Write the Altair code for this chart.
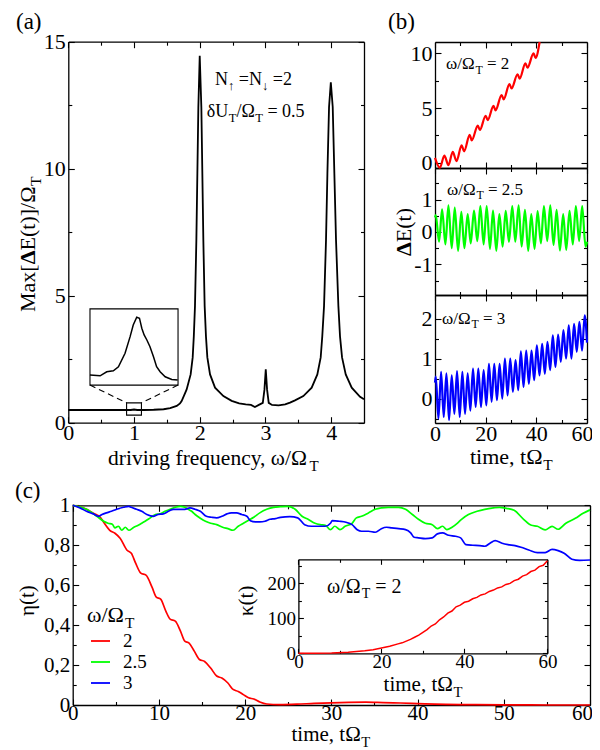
import altair as alt
import pandas as pd

# ---------------- (a) Max[dE(t)]/Omega_T versus driving frequency ----------------
omega_a = [0.0, 0.3, 0.6, 0.85, 0.95, 1.0, 1.05, 1.15, 1.3, 1.45, 1.55, 1.65, 1.70, 1.725,
           1.8, 1.862, 1.893, 1.91, 1.928, 1.949, 1.964, 1.979, 2.0, 2.025, 2.04, 2.055,
           2.075, 2.095, 2.116, 2.157, 2.233, 2.36, 2.486, 2.6, 2.7, 2.78, 2.84, 2.9, 2.96,
           2.985, 3.005, 3.025, 3.05, 3.1, 3.2, 3.3, 3.374, 3.45, 3.577, 3.704, 3.79, 3.841,
           3.865, 3.892, 3.922, 3.943, 3.968, 3.995, 4.024, 4.049, 4.074, 4.11, 4.135, 4.166,
           4.222, 4.313, 4.44, 4.5]
maxE_a = [0.5, 0.5, 0.5, 0.5, 0.5, 0.52, 0.5, 0.5, 0.51, 0.53, 0.57, 0.66, 0.76, 0.85,
          1.3, 1.9, 2.57, 3.4, 4.6, 7.2, 9.8, 12.4, 14.45, 12.4, 9.8, 7.2,
          4.6, 3.4, 2.57, 1.9, 1.38, 1.05, 0.86, 0.76, 0.72, 0.7, 0.62, 0.7, 0.78,
          1.3, 2.1, 1.3, 0.78, 0.7, 0.68, 0.72, 0.79, 0.88, 1.05, 1.38, 1.9, 2.57,
          3.4, 4.6, 7.2, 9.8, 12.43, 13.4, 12.43, 9.8, 7.2, 4.6, 3.4, 2.57,
          1.9, 1.38, 1.02, 0.92]
# (a) inset: magnified curve around omega = 1
omega_ins = [0.887, 0.913, 0.930, 0.947, 0.960, 0.977, 0.990, 0.998, 1.007, 1.014,
             1.020, 1.026, 1.033, 1.041, 1.050, 1.058, 1.067, 1.080, 1.097, 1.112]
maxE_ins = [0.4732, 0.4722, 0.4775, 0.4788, 0.4841, 0.5017, 0.5236, 0.5389, 0.5491, 0.5478,
            0.5346, 0.5258, 0.5192, 0.5104, 0.4972, 0.4841, 0.4775, 0.4709, 0.4675, 0.4666]

# ---------------- (b) dE(t), turning points of each trace ----------------
t_b1 = [0, 1.9, 3.7, 5.3, 7.0, 8.5, 10.5, 11.5, 13.7, 14.5, 16.9, 17.7, 20.0, 20.8, 23.1,
        23.9, 26.3, 27.1, 29.4, 30.2, 32.6, 33.4, 35.7, 36.5, 38.9, 39.7, 41.3]
dE_b1 = [0.45, -0.45, 0.65, -0.22, 1.0, 0.15, 1.6, 1.05, 2.55, 2.05, 3.4, 3.0, 4.3, 3.9, 5.2,
         4.8, 6.2, 5.8, 7.2, 6.8, 8.1, 7.7, 9.1, 8.7, 10.0, 9.6, 11.05]

t_b2 = [0, 0.3, 1.6, 2.8, 4.1, 5.3, 6.6, 7.8, 9.1, 10.4, 11.6, 12.9, 14.1, 15.4, 16.7, 17.9,
        19.2, 20.4, 21.7, 22.9, 24.2, 25.4, 26.7, 27.9, 29.2, 30.5, 31.7, 33.0, 34.2, 35.5,
        36.8, 38.0, 39.3, 40.5, 41.8, 43.0, 44.3, 45.5, 46.8, 48.0, 49.3, 50.6, 51.8, 53.1,
        54.4, 55.6, 56.9, 58.1, 59.4, 60]
dE_b2 = [0.45, 0.52, -0.3, 0.7, -0.38, 0.82, -0.5, 0.75, -0.58, 0.62, -0.5, 0.55, -0.35, 0.66,
         -0.28, 0.8, -0.38, 0.8, -0.52, 0.66, -0.58, 0.55, -0.45, 0.65, -0.3, 0.8, -0.3, 0.82,
         -0.45, 0.68, -0.58, 0.55, -0.52, 0.64, -0.35, 0.8, -0.28, 0.82, -0.4, 0.68, -0.57,
         0.55, -0.55, 0.65, -0.38, 0.8, -0.28, 0.8, -0.45, -0.3]

t_b3 = [0, 0.3, 1.35, 2.4, 3.45, 4.5, 5.55, 6.6, 7.65, 8.7, 9.75, 10.8, 11.85, 12.9, 13.95,
        15.0, 16.05, 17.1, 18.15, 19.2, 20.25, 21.3, 22.35, 23.4, 24.45, 25.5, 26.55, 27.6,
        28.65, 29.7, 30.75, 31.8, 32.85, 33.9, 34.95, 36.0, 37.05, 38.1, 39.15, 40.2, 41.25,
        42.3, 43.35, 44.4, 45.45, 46.5, 47.55, 48.6, 49.65, 50.7, 51.75, 52.8, 53.85, 54.9,
        55.95, 57.0, 58.05, 59.1, 60]
dE_b3 = [0.4, 0.55, -0.5, 0.67, -0.46, 0.63, -0.54, 0.58, -0.38, 0.69, -0.46, 0.67, -0.38,
         0.63, -0.3, 0.75, -0.21, 0.75, -0.21, 0.71, -0.17, 0.87, -0.08, 0.87, -0.04, 0.87,
         0.0, 1.0, 0.08, 1.0, 0.17, 0.96, 0.21, 1.18, 0.29, 1.2, 0.37, 1.2, 0.46, 1.33, 0.58,
         1.37, 0.62, 1.42, 0.71, 1.58, 0.79, 1.6, 0.92, 1.71, 1.0, 1.83, 1.0, 1.87, 1.17,
         1.92, 1.2, 2.08, 1.4]

# ---------------- (c) eta(t) ----------------
t_eta2 = [0, 1.0, 1.6, 2.4, 3.2, 3.6, 4.3, 4.9, 5.5, 6.3, 6.8, 7.3, 7.9, 8.5, 9.2, 9.7, 10.2,
          10.8, 11.3, 11.9, 12.5, 13.0, 13.5, 14.1, 14.7, 15.3, 16.0, 16.7, 17.3, 18.0, 18.6,
          19.2, 19.8, 20.4, 21.0, 21.7, 22.5, 24, 26, 28, 30, 32, 34, 36, 38, 40, 42, 45, 50,
          55, 60]
eta2 = [1.0, 0.99, 0.98, 0.96, 0.94, 0.915, 0.875, 0.86, 0.835, 0.775, 0.76, 0.71, 0.66, 0.65,
        0.59, 0.54, 0.53, 0.47, 0.43, 0.42, 0.37, 0.32, 0.31, 0.27, 0.228, 0.218, 0.185, 0.145,
        0.135, 0.11, 0.078, 0.068, 0.052, 0.036, 0.03, 0.015, 0.005, 0.002, 0.004, 0.008, 0.011,
        0.013, 0.014, 0.012, 0.01, 0.007, 0.004, 0.002, 0.001, 0.0, 0.0]
t_eta25 = [0, 1.6, 2.8, 3.6, 4.1, 4.6, 4.9, 5.3, 5.7, 6.1, 6.5, 7.1, 7.6, 8.0, 8.4, 9.0, 9.6,
           10.1, 10.7, 11.3, 11.9, 12.5, 13.0, 13.4, 13.8, 14.2, 14.8, 15.4, 16.0, 16.7, 17.4,
           18.0, 18.6, 19.2, 19.8, 20.4, 21.0, 21.7, 22.5, 23.3, 24.1, 25.0, 25.8, 26.6, 27.3,
           28.1, 28.7, 29.3, 29.9, 30.4, 31.0, 31.6, 32.4, 32.9, 33.5, 34.3, 35.1, 35.8, 36.6,
           37.8, 38.6, 39.4, 40.1, 40.9, 41.7, 42.3, 42.9, 43.4, 44.0, 44.6, 45.1, 45.9, 46.9,
           47.8, 48.8, 49.5, 50.3, 51.2, 52.3, 53.2, 53.9, 54.8, 55.6, 56.3, 57.2, 58.3, 59.2, 60]
eta25 = [1.0, 0.98, 0.945, 0.92, 0.91, 0.905, 0.887, 0.895, 0.875, 0.89, 0.875, 0.89, 0.9,
         0.91, 0.92, 0.937, 0.954, 0.957, 0.97, 0.98, 0.99, 0.995, 0.99, 0.98, 0.97, 0.954,
         0.935, 0.92, 0.91, 0.903, 0.89, 0.883, 0.875, 0.895, 0.91, 0.925, 0.94, 0.962, 0.98,
         0.99, 0.993, 0.995, 0.98, 0.945, 0.93, 0.91, 0.903, 0.9, 0.878, 0.895, 0.878, 0.895,
         0.91, 0.937, 0.945, 0.962, 0.98, 0.987, 0.99, 0.99, 0.98, 0.954, 0.93, 0.91, 0.903,
         0.883, 0.895, 0.878, 0.89, 0.91, 0.93, 0.954, 0.97, 0.98, 0.987, 0.99, 0.985, 0.975,
         0.93, 0.9, 0.895, 0.877, 0.894, 0.88, 0.91, 0.935, 0.96, 0.977]
t_eta3 = [0, 0.85, 1.6, 2.4, 3.0, 3.4, 3.9, 4.5, 5.1, 5.9, 6.5, 6.8, 7.4, 8.0, 8.6, 9.4, 9.9,
          10.5, 11.1, 11.7, 12.3, 13.0, 13.6, 14.2, 14.8, 15.5, 16.1, 16.7, 17.3, 17.9, 18.4,
          19.0, 19.6, 20.2, 20.6, 21.2, 21.7, 22.3, 22.9, 23.5, 24.1, 25.2, 26.1, 26.9, 27.7,
          28.5, 29.3, 29.9, 30.1, 30.9, 31.7, 32.4, 33.0, 33.5, 34.3, 35.1, 35.8, 36.4, 37.0,
          37.8, 38.6, 39.2, 39.6, 40.1, 40.9, 41.7, 42.3, 42.9, 43.6, 44.4, 45.0, 45.6, 46.4,
          47.2, 47.8, 48.4, 49.0, 49.8, 50.5, 51.3, 52.0, 52.9, 53.9, 54.8, 55.6, 56.3, 57.0,
          57.9, 58.8, 60]
eta3 = [1.0, 0.987, 0.97, 0.957, 0.945, 0.954, 0.962, 0.97, 0.98, 0.99, 0.995, 0.99, 0.98,
        0.97, 0.954, 0.945, 0.954, 0.957, 0.97, 0.98, 0.98, 0.98, 0.987, 0.98, 0.97, 0.945,
        0.94, 0.937, 0.945, 0.957, 0.962, 0.962, 0.954, 0.945, 0.923, 0.917, 0.917, 0.92, 0.93,
        0.933, 0.94, 0.943, 0.937, 0.903, 0.895, 0.895, 0.895, 0.91, 0.923, 0.92, 0.915, 0.903,
        0.878, 0.87, 0.87, 0.865, 0.883, 0.89, 0.887, 0.883, 0.878, 0.862, 0.84, 0.837, 0.833,
        0.837, 0.857, 0.862, 0.85, 0.845, 0.837, 0.803, 0.8, 0.798, 0.795, 0.81, 0.823, 0.81,
        0.803, 0.798, 0.79, 0.776, 0.763, 0.763, 0.779, 0.773, 0.76, 0.73, 0.724, 0.726]
series_c = ["2", "2.5", "3"]
colors_c = ["#ff0000", "#00ff00", "#0000ff"]

# (c) inset kappa(t) for omega = 2
t_kappa = [0, 4, 8, 12, 16, 18, 20, 22, 24, 25, 26, 27, 28, 29, 30, 31, 32, 33, 34, 35, 36, 37,
           38, 39, 40, 41, 42, 43, 44, 45, 46, 47, 48, 49, 50, 51, 52, 53, 54, 55, 56, 57, 58,
           59, 60]
kappa = [0, 0.2, 1, 3, 7, 10, 15, 20, 27, 30, 35, 40, 46, 52, 60, 68, 78, 84, 96, 104, 115,
         121, 133, 138, 146, 149, 156, 160, 167, 170, 177, 181, 187, 190, 197, 200, 208, 212,
         221, 225, 234, 238, 248, 252, 265]

# ---------------- layout ----------------
FONT = "Liberation Serif"
OX, OY = 8, 8
W, H = 584, 742


def P(x):
    return x - OX


def Q(y):
    return y - OY


A = dict(x0=68.3, x1=364.0, yt=41.7, yb=422.7, xdom=[0, 4.5], ydom=[0, 15],
         xmaj=[0, 1, 2, 3, 4], xmin=[0.5, 1.5, 2.5, 3.5], ymaj=[0, 5, 10, 15], ymin=[2.5, 7.5, 12.5])
B1 = dict(x0=435, x1=587, yt=42, yb=168, xdom=[0, 60], ydom=[-0.48, 11.05],
          xmaj=[0, 20, 40, 60], xmin=[10, 30, 50], ymaj=[0, 5, 10], ymin=[2.5, 7.5])
B2 = dict(x0=435, x1=587, yt=168, yb=295, xdom=[0, 60], ydom=[-1.94, 1.97],
          xmaj=[0, 20, 40, 60], xmin=[10, 30, 50], ymaj=[-1, 0, 1], ymin=[-1.5, -0.5, 0.5, 1.5])
B3 = dict(x0=435, x1=587, yt=295, yb=423, xdom=[0, 60], ydom=[-0.61, 2.59],
          xmaj=[0, 20, 40, 60], xmin=[10, 30, 50], ymaj=[0, 1, 2], ymin=[-0.5, 0.5, 1.5])
C = dict(x0=72.7, x1=590, yt=505.3, yb=705, xdom=[0, 60], ydom=[0, 1],
         xmaj=[0, 10, 20, 30, 40, 50, 60], xmin=[5, 15, 25, 35, 45, 55],
         ymaj=[0, 0.2, 0.4, 0.6, 0.8, 1], ymin=[0.1, 0.3, 0.5, 0.7, 0.9])
CI = dict(x0=298.4, x1=547.4, yt=559.3, yb=653.3, xdom=[0, 60], ydom=[0, 269],
          xmaj=[0, 20, 40, 60], xmin=[10, 30, 50], ymaj=[0, 100, 200], ymin=[50, 150, 250])


def scales(g):
    xs = alt.Scale(domain=g["xdom"], range=[P(g["x0"]), P(g["x1"])], nice=False, zero=False)
    ys = alt.Scale(domain=g["ydom"], range=[Q(g["yb"]), Q(g["yt"])], nice=False, zero=False)
    return xs, ys


def ax(**kw):
    base = dict(title=None, grid=False, domainColor="black", tickColor="black",
                labelColor="black", labelFont=FONT, domainWidth=1.3, tickWidth=1.1,
                labelFlush=False, labelOverlap=False, labelBound=False)
    base.update(kw)
    return alt.Axis(**base)


def panel(g, lab=22, xlabels=True, yexpr="toString(datum.value)", tmaj=6, tmin=3.5,
          last_shift=0, xpad=0):
    xs, ys = scales(g)
    frame = pd.DataFrame({"x": g["xdom"], "y": g["ydom"]})

    def ghost(xa, ya):
        return alt.Chart(frame).mark_point(opacity=0).encode(
            x=alt.X("x:Q", scale=xs, axis=xa), y=alt.Y("y:Q", scale=ys, axis=ya))

    xlab_vals = g["xmaj"][:-1] if last_shift else g["xmaj"]
    out = [ghost(
        ax(orient="bottom", offset=Q(g["yb"]) - H, values=xlab_vals, ticks=False,
           labels=xlabels, labelFontSize=lab, labelPadding=xpad, labelExpr="toString(datum.value)"),
        ax(orient="left", offset=-P(g["x0"]), values=g["ymaj"], ticks=False,
           labelFontSize=lab, labelPadding=3, labelExpr=yexpr))]
    if last_shift and xlabels:
        # rightmost label nudged inward so that it stays inside the page
        out.append(ghost(
            ax(orient="bottom", offset=Q(g["yb"]) - H, values=g["xmaj"][-1:], ticks=False,
               domain=False, labelFontSize=lab, labelPadding=xpad, labelOffset=last_shift,
               labelExpr="toString(datum.value)"), None))
    for vx, vy, size, dom in [(g["xmaj"], g["ymaj"], tmaj, True), (g["xmin"], g["ymin"], tmin, False)]:
        out.append(ghost(
            ax(orient="top", offset=-Q(g["yb"]), values=vx, labels=False, domain=False, tickSize=size),
            ax(orient="right", offset=P(g["x0"]) - W, values=vy, labels=False, domain=False, tickSize=size)))
        out.append(ghost(
            ax(orient="bottom", offset=Q(g["yt"]) - H, values=vx, labels=False, domain=dom, tickSize=size),
            ax(orient="left", offset=-P(g["x1"]), values=vy, labels=False, domain=dom, tickSize=size)))
    return xs, ys, out


EM = {" ": 0.25, "(": 0.333, ")": 0.333, ",": 0.25, ".": 0.25, "/": 0.278, "=": 0.564,
      "E": 0.611, "M": 0.889, "N": 0.722, "T": 0.611, "U": 0.722, "[": 0.333, "]": 0.333,
      "a": 0.444, "c": 0.444, "d": 0.5, "e": 0.444, "f": 0.333, "g": 0.5, "i": 0.278,
      "m": 0.778, "n": 0.5, "q": 0.5, "r": 0.333, "t": 0.278, "u": 0.5, "v": 0.5, "x": 0.5,
      "y": 0.5, "Δ": 0.63, "Ω": 0.768, "δ": 0.5, "ω": 0.686, "η": 0.5, "κ": 0.5,
      "↑": 0.5, "↓": 0.5}


def chain(parts, x, y, size, angle=0):
    """Text made of consecutive runs (normal, bold or subscript), laid out left to right."""
    out, cum = [], 0.0
    for txt, kind in parts:
        fs = size * 0.7 if kind == "s" else size
        lead = len(txt) - len(txt.lstrip(" "))
        cum += lead * EM[" "] * size          # leading blanks become an offset (text is trimmed)
        txt = txt.lstrip(" ")
        dy = size * 0.28 if kind == "s" else 0
        kw = dict(align="left", baseline="alphabetic", font=FONT, fontSize=fs, dx=cum, dy=dy,
                  color="black", fontWeight="bold" if kind == "b" else "normal")
        if angle:
            kw["angle"] = angle
        out.append(alt.Chart(pd.DataFrame({"t": [txt]})).mark_text(**kw).encode(
            x=alt.value(P(x)), y=alt.value(Q(y)), text="t:N"))
        cum += sum(EM.get(c, 0.5) for c in txt) * fs
    return out


layers = []

# ---- panel (a)
xsA, ysA, L = panel(A)
layers += L
layers.append(alt.Chart(pd.DataFrame({"w": omega_a, "m": maxE_a})).mark_line(
    color="black", strokeWidth=1.8).encode(
    x=alt.X("w:Q", scale=xsA, axis=None), y=alt.Y("m:Q", scale=ysA, axis=None)))
ZX, ZY = [0.887, 1.113], [0.30, 0.78]          # magnified window
IX, IY = [0.33, 1.67], [1.48, 4.48]            # inset placement (in panel-a units)
layers.append(alt.Chart(pd.DataFrame({"x0": [ZX[0], IX[0]], "x1": [ZX[1], IX[1]],
                                      "y0": [ZY[0], IY[0]], "y1": [ZY[1], IY[1]]})).mark_rect(
    fillOpacity=0, stroke="black", strokeWidth=1.1).encode(
    x=alt.X("x0:Q", scale=xsA, axis=None), x2="x1:Q",
    y=alt.Y("y0:Q", scale=ysA, axis=None), y2="y1:Q"))
layers.append(alt.Chart(pd.DataFrame({"x": [IX[0], IX[1]], "y": [IY[0], IY[0]],
                                      "x2": [ZX[0], ZX[1]], "y2": [ZY[1], ZY[1]]})).mark_rule(
    color="black", strokeWidth=1.1, strokeDash=[6, 4]).encode(
    x=alt.X("x:Q", scale=xsA, axis=None), y=alt.Y("y:Q", scale=ysA, axis=None),
    x2="x2:Q", y2="y2:Q"))


def mapA_x(w):
    return P(A["x0"] + (w - A["xdom"][0]) / (A["xdom"][1] - A["xdom"][0]) * (A["x1"] - A["x0"]))


def mapA_y(v):
    return Q(A["yb"] - (v - A["ydom"][0]) / (A["ydom"][1] - A["ydom"][0]) * (A["yb"] - A["yt"]))


xs_in = alt.Scale(domain=ZX, range=[mapA_x(IX[0]), mapA_x(IX[1])], nice=False, zero=False)
ys_in = alt.Scale(domain=[0.46, 0.56], range=[mapA_y(IY[0]), mapA_y(IY[1])], nice=False, zero=False)
layers.append(alt.Chart(pd.DataFrame({"w": omega_ins, "m": maxE_ins})).mark_line(
    color="black", strokeWidth=1.5).encode(
    x=alt.X("w:Q", scale=xs_in, axis=None), y=alt.Y("m:Q", scale=ys_in, axis=None)))

# ---- panels (b)
for g, tt, vv, col, xl in [(B1, t_b1, dE_b1, "#ff0000", False), (B2, t_b2, dE_b2, "#00ff00", False),
                          (B3, t_b3, dE_b3, "#0000ff", True)]:
    xs, ys, L = panel(g, xlabels=xl, last_shift=-5 if xl else 0)
    layers += L
    layers.append(alt.Chart(pd.DataFrame({"t": tt, "v": vv})).mark_line(
        color=col, strokeWidth=2.2, interpolate="monotone").encode(
        x=alt.X("t:Q", scale=xs, axis=None), y=alt.Y("v:Q", scale=ys, axis=None)))

# ---- panel (c)
xsC, ysC, L = panel(C, lab=21, yexpr="replace(toString(datum.value), '.', ',')", tmaj=6, tmin=3.5,
                    last_shift=-8, xpad=-3)
layers += L
df_c = pd.DataFrame({
    "t": t_eta2 + t_eta25 + t_eta3,
    "eta": eta2 + eta25 + eta3,
    "w": [series_c[0]] * len(t_eta2) + [series_c[1]] * len(t_eta25) + [series_c[2]] * len(t_eta3)})
layers.append(alt.Chart(df_c).mark_line(strokeWidth=1.7, interpolate="monotone").encode(
    x=alt.X("t:Q", scale=xsC, axis=None), y=alt.Y("eta:Q", scale=ysC, axis=None),
    color=alt.Color("w:N", scale=alt.Scale(domain=series_c, range=colors_c),
                    legend=alt.Legend(orient="none", legendX=P(90), legendY=Q(630.5), title=None,
                                      symbolType="stroke", symbolSize=361, symbolStrokeWidth=1.8,
                                      labelFont=FONT, labelFontSize=19, labelColor="black",
                                      labelOffset=12, rowPadding=0, padding=0, offset=0))))
xsK, ysK, L = panel(CI, lab=19, tmaj=5, tmin=3, xpad=-1)
layers += L
layers.append(alt.Chart(pd.DataFrame({"t": t_kappa, "k": kappa})).mark_line(
    color="#ff0000", strokeWidth=1.5).encode(
    x=alt.X("t:Q", scale=xsK, axis=None), y=alt.Y("k:Q", scale=ysK, axis=None)))

# ---- texts
n, s, b = "n", "s", "b"
layers += chain([("(a)", n)], 16, 29, 23)
layers += chain([("(b)", n)], 388, 29, 23)
layers += chain([("(c)", n)], 15, 498, 23)
layers += chain([("Max[", n), ("Δ", b), ("E(t)]/Ω", n), ("T", s)], 35, 312, 22, 270)
layers += chain([("driving frequency, ω/Ω", n), ("T", s)], 108, 465, 21.5)
layers += chain([("N", n), ("↑", s), (" =N", n), ("↓", s), (" =2", n)], 215, 85, 18)
layers += chain([("δU", n), ("T", s), ("/Ω", n), ("T", s), (" = 0.5", n)], 206.7, 117, 18)
layers += chain([("Δ", b), ("E(t)", n)], 411, 256, 22, 270)
layers += chain([("time, tΩ", n), ("T", s)], 470, 464, 22)
layers += chain([("ω/Ω", n), ("T", s), (" = 2", n)], 446, 69, 17)
layers += chain([("ω/Ω", n), ("T", s), (" = 2.5", n)], 447, 194.5, 17)
layers += chain([("ω/Ω", n), ("T", s), (" = 3", n)], 442, 323.5, 17)
layers += chain([("η(t)", n)], 34, 616, 21, 270)
layers += chain([("time, tΩ", n), ("T", s)], 291.5, 741, 21)
layers += chain([("κ(t)", n)], 253, 616, 21, 270)
layers += chain([("time, tΩ", n), ("T", s)], 383.6, 691, 21)
layers += chain([("ω/Ω", n), ("T", s), (" = 2", n)], 327, 592.5, 20)
layers += chain([("ω/Ω", n), ("T", s)], 87, 622, 22)

chart = alt.layer(*layers).resolve_scale(x="independent", y="independent").properties(
    width=W, height=H, autosize=alt.AutoSizeParams(type="none"), padding=0,
    background="white").configure_view(stroke=None)

chart.save("out.html", embed_options={"renderer": "svg", "actions": False})
